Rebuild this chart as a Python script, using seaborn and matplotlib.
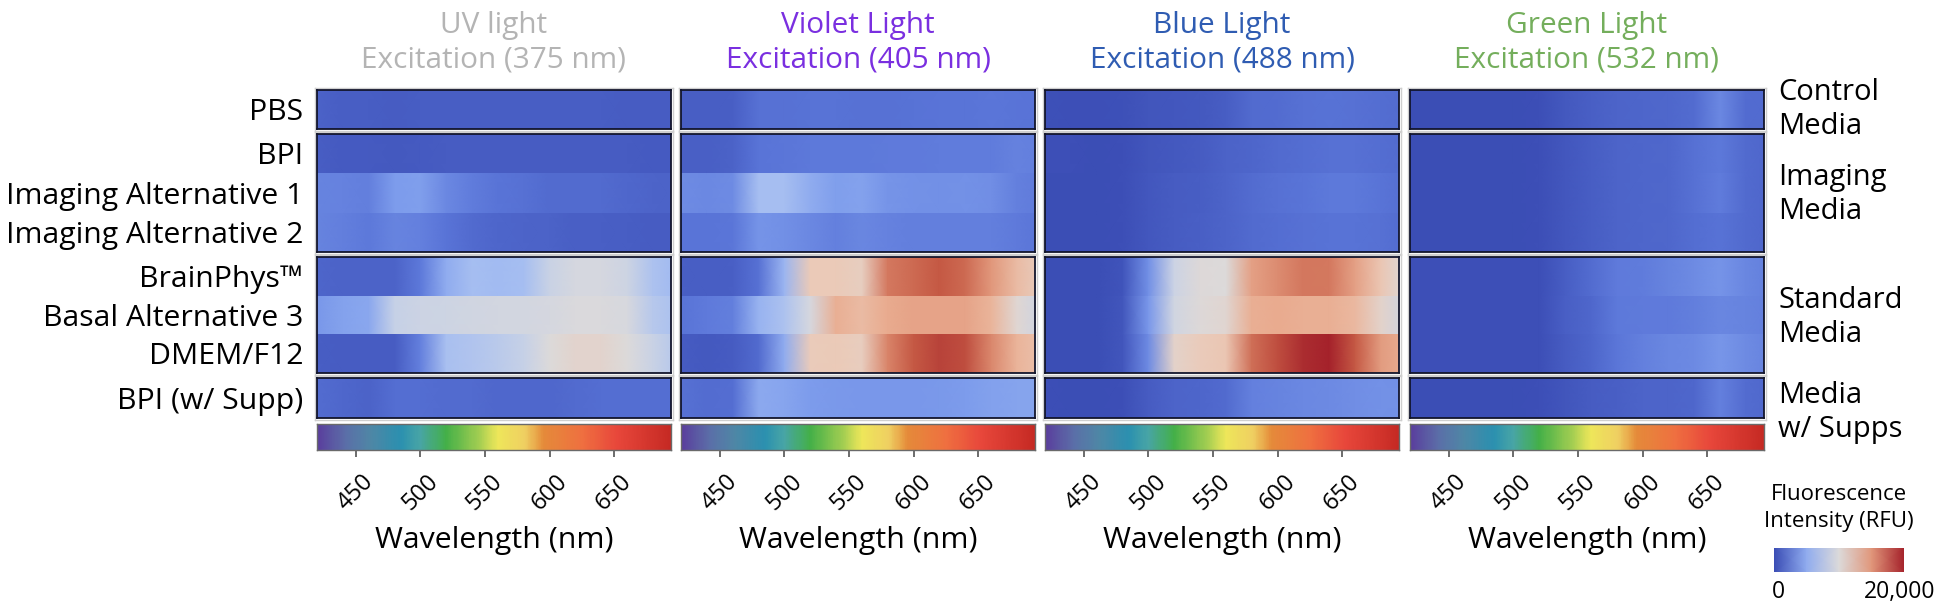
"""
Fluorescence spectra heatmaps per excitation laser, drawn with seaborn.
"""
import numpy as np
import matplotlib
matplotlib.use("Agg")
import matplotlib.pyplot as plt
from matplotlib.colors import LinearSegmentedColormap
import seaborn as sns

# sample points of the emission spectra (nm), the panels stop at 694
wavelengths = [420, 440, 460, 480, 500, 520, 540, 560, 580, 600, 620, 640, 660, 680, 700]
wl_min, wl_max = 420, 694
wl_ticks = [450, 500, 550, 600, 650]

media = ["PBS", "BPI", "Imaging Alternative 1", "Imaging Alternative 2", "BrainPhys™",
         "Basal Alternative 3", "DMEM/F12", "BPI (w/ Supp)"]

# RFU, one row per medium
uv_values = [
    [1100, 900, 900, 800, 900, 900, 900, 900, 900, 900, 900, 900, 800, 800, 800],
    [900, 750, 750, 650, 750, 800, 800, 800, 800, 800, 800, 800, 800, 750, 750],
    [2800, 2700, 2500, 4000, 4200, 3000, 2400, 2000, 1800, 1500, 1500, 1500, 1400, 1200, 1100],
    [2800, 2500, 2200, 2800, 2600, 2000, 1500, 1300, 1200, 1100, 1000, 1000, 900, 800, 800],
    [1300, 1100, 1100, 1100, 2200, 5000, 6200, 6000, 6200, 8400, 9400, 9400, 8800, 6600, 5800],
    [3800, 4400, 4700, 8200, 8600, 8800, 9000, 9200, 9200, 9400, 9800, 9800, 9600, 7200, 6400],
    [900, 800, 800, 800, 2600, 6400, 6800, 7400, 8200, 10000, 10800, 10800, 10000, 8400, 7000],
    [1600, 1400, 1100, 1700, 1700, 1500, 1500, 1400, 1400, 1400, 1500, 1700, 1700, 1700, 1700],
]
violet_values = [
    [900, 900, 1000, 1800, 1800, 1900, 1900, 1800, 1800, 1900, 2000, 2000, 2100, 2000, 1900],
    [1000, 1000, 1100, 2000, 2100, 2200, 2200, 2200, 2300, 2300, 2400, 2400, 2400, 2700, 2500],
    [3200, 3000, 3200, 6200, 6200, 5000, 4200, 4400, 3600, 3500, 3400, 3500, 3300, 2600, 2300],
    [2000, 2000, 2100, 3600, 3400, 3000, 2600, 2900, 2700, 2500, 2500, 2500, 2500, 2300, 2000],
    [1000, 900, 1000, 1800, 5600, 12000, 12000, 11500, 16500, 17200, 18000, 17200, 15000, 13000, 11500],
    [2000, 2300, 2500, 5400, 6600, 9500, 13800, 13000, 14000, 14400, 14400, 14400, 13500, 10500, 8600],
    [800, 700, 800, 1500, 5000, 11800, 12000, 11600, 16000, 18000, 18800, 18400, 15800, 13500, 12500],
    [1800, 1600, 1700, 4800, 4600, 4000, 3900, 3800, 3800, 3800, 3900, 4000, 4300, 4500, 4500],
]
blue_values = [
    [300, 200, 200, 300, 500, 600, 700, 900, 1500, 1600, 1800, 1900, 1800, 1700, 1500],
    [200, 200, 100, 200, 500, 700, 800, 1100, 1300, 1500, 1700, 1800, 1800, 1700, 1500],
    [100, 100, 100, 200, 600, 800, 900, 1200, 1600, 1800, 2000, 2200, 2200, 2000, 1700],
    [100, 100, 100, 200, 600, 800, 1000, 1200, 1500, 1700, 1800, 1900, 1900, 1800, 1500],
    [100, 100, 100, 400, 3400, 8600, 10200, 10000, 14600, 15600, 16600, 16500, 14600, 12200, 10000],
    [100, 100, 100, 500, 3800, 9000, 10200, 10600, 13800, 14000, 13800, 13800, 13200, 11000, 8800],
    [100, 100, 100, 500, 3200, 11000, 11800, 12200, 17000, 18400, 19600, 20000, 18000, 14800, 13800],
    [200, 100, 100, 200, 800, 1200, 1300, 1500, 2600, 2800, 3000, 3100, 3300, 3500, 3400],
]
green_values = [
    [100, 100, 100, 100, 100, 200, 700, 1000, 1200, 1300, 1400, 1600, 3000, 1600, 1500],
    [100, 100, 100, 100, 100, 200, 600, 900, 1200, 1300, 1400, 1800, 2200, 1500, 1300],
    [100, 100, 100, 100, 100, 200, 600, 900, 1200, 1300, 1400, 1800, 2400, 1500, 1300],
    [100, 100, 100, 100, 100, 200, 600, 900, 1200, 1300, 1400, 1700, 1900, 1500, 1300],
    [200, 200, 200, 200, 200, 200, 900, 1600, 2300, 2400, 2800, 3200, 3600, 2900, 2500],
    [200, 200, 200, 200, 200, 200, 1000, 1400, 2200, 2300, 2300, 2500, 2900, 2800, 2500],
    [200, 200, 200, 200, 200, 200, 800, 1300, 2100, 2600, 2900, 3100, 3700, 3200, 2700],
    [100, 100, 100, 100, 100, 200, 500, 800, 1000, 1200, 1200, 1400, 2600, 1600, 1400],
]

panel_titles = ["UV light\nExcitation (375 nm)", "Violet Light\nExcitation (405 nm)",
                "Blue Light\nExcitation (488 nm)", "Green Light\nExcitation (532 nm)"]
panel_colors = ["#b4b4b4", "#7a2fe0", "#2f5cb2", "#74ae5c"]
group_labels = ["Control\nMedia", "Imaging\nMedia", "Standard\nMedia", "Media\nw/ Supps"]
legend_values = [0, 5000, 10000, 15000, 20000]

# position along the bar, colour
spectrum_colors = [(0, "#5a3f9e"), (0.08, "#5b6fa8"), (0.15, "#4f87a6"), (0.235, "#2b90b0"),
                   (0.29, "#48a5a6"), (0.365, "#44b048"), (0.46, "#a6cf52"), (0.51, "#eee75a"),
                   (0.59, "#efcf62"), (0.64, "#e58b3a"), (0.75, "#ef7040"), (0.85, "#e8473b"),
                   (1, "#c62a24")]
intensity_colors = ["#3a4cb4", "#5a75d8", "#7d9cec", "#a3bcf2", "#c4d0e8", "#dcdadb",
                    "#ebcab8", "#e9ac90", "#d98469", "#c65a45", "#a5222b"]

WIDTH, HEIGHT = 1938, 608
panel_lefts = [317, 681, 1045, 1410]
panel_width = 354
# top, bottom, first row, number of rows
groups = [(90, 129, 0, 1), (134, 252, 1, 3), (257, 373, 4, 3), (378, 418, 7, 1)]

sns.set_theme(style="white")
plt.rcParams["font.family"] = ["Open Sans", "DejaVu Sans"]
spectrum_cmap = LinearSegmentedColormap.from_list("spectrum", spectrum_colors)
intensity_cmap = LinearSegmentedColormap.from_list("intensity", intensity_colors)


def px_axes(fig, left, top, right, bottom):
    return fig.add_axes([left / WIDTH, 1 - bottom / HEIGHT, (right - left) / WIDTH, (bottom - top) / HEIGHT])


def outline(fig, left, top, right, bottom, color, width):
    """Empty axes used only for its frame."""
    frame = px_axes(fig, left, top, right, bottom)
    frame.patch.set_alpha(0)
    frame.set_xticks([])
    frame.set_yticks([])
    for spine in frame.spines.values():
        spine.set_visible(True)
        spine.set_color(color)
        spine.set_linewidth(width)


def smooth_strip(ax, values, cmap, vmin, vmax):
    """One horizontal strip; gouraud shading needs the row given twice."""
    sns.heatmap(np.array([values, values]), ax=ax, cmap=cmap, vmin=vmin, vmax=vmax, cbar=False,
                xticklabels=False, yticklabels=False, shading="gouraud")
    ax.set_ylim(1, 0)


fig = plt.figure(figsize=(WIDTH / 100, HEIGHT / 100), dpi=100)
all_values = [uv_values, violet_values, blue_values, green_values]
x_end = (wl_max - wl_min) / (wavelengths[1] - wavelengths[0])

for p, left in enumerate(panel_lefts):
    right = left + panel_width
    for top, bottom, first, n_rows in groups:
        outline(fig, left - 2, top - 2, right + 2, bottom + 2, "#cfcfcf", 1.0)
        row_h = (bottom - top) / n_rows
        for r in range(n_rows):
            ax = px_axes(fig, left, round(top + r * row_h), right, round(top + (r + 1) * row_h))
            smooth_strip(ax, all_values[p][first + r], intensity_cmap, 0, 20000)
            ax.set_xlim(0, x_end)
            if p == 0:
                ax.set_yticks([0.5], [media[first + r]], rotation=0, fontsize=21.7, color="black")
                ax.tick_params(axis="y", length=0, pad=10)
        outline(fig, left, top, right, bottom, "#12152c", 1.3)

    # emission colour scale with the wavelength axis
    spec_ax = px_axes(fig, left, 424, right, 450)
    spectrum_nm = np.arange(wl_min, wl_max + 2, 2)
    smooth_strip(spec_ax, spectrum_nm, spectrum_cmap, wl_min, wl_max)
    spec_ax.set_xlim(0, (wl_max - wl_min) / 2)
    for spine in spec_ax.spines.values():
        spine.set_visible(True)
        spine.set_color("#6a6a6a")
        spine.set_linewidth(1.0)
    spec_ax.set_xticks([(w - wl_min) / 2 for w in wl_ticks], wl_ticks, rotation=45, fontsize=17,
                       ha="center", color="black")
    spec_ax.tick_params(axis="x", length=5, width=1.1, color="#444444", pad=9, bottom=True)
    spec_ax.set_xlabel("Wavelength (nm)", fontsize=21.8, color="black", labelpad=8)

    fig.text((left + right) / 2 / WIDTH, 1 - 42.5 / HEIGHT, panel_titles[p], color=panel_colors[p],
             fontsize=21.4, ha="center", va="center", linespacing=1.25)

for label, y in zip(group_labels, [109.5, 194.5, 317.5, 412.5]):
    fig.text(1778 / WIDTH, 1 - y / HEIGHT, label, fontsize=21, color="black", ha="left", va="center",
             linespacing=1.27)

# intensity legend
leg_ax = px_axes(fig, 1774, 548, 1904, 572)
smooth_strip(leg_ax, legend_values, intensity_cmap, 0, 20000)
leg_ax.set_xlim(0, len(legend_values) - 1)
leg_ax.set_xticks([0.15, 1.1, 2.03, 2.95, 3.88], ["0", "", "", "", "20,000"], fontsize=16.5, color="black")
leg_ax.tick_params(axis="x", direction="in", length=4, width=1.2, color="white", pad=6, bottom=True)
fig.text(1839 / WIDTH, 1 - 508 / HEIGHT, "Fluorescence\nIntensity (RFU)", fontsize=16, color="black",
         ha="center", va="center", linespacing=1.42)

fig.savefig("out.png", dpi=100)
